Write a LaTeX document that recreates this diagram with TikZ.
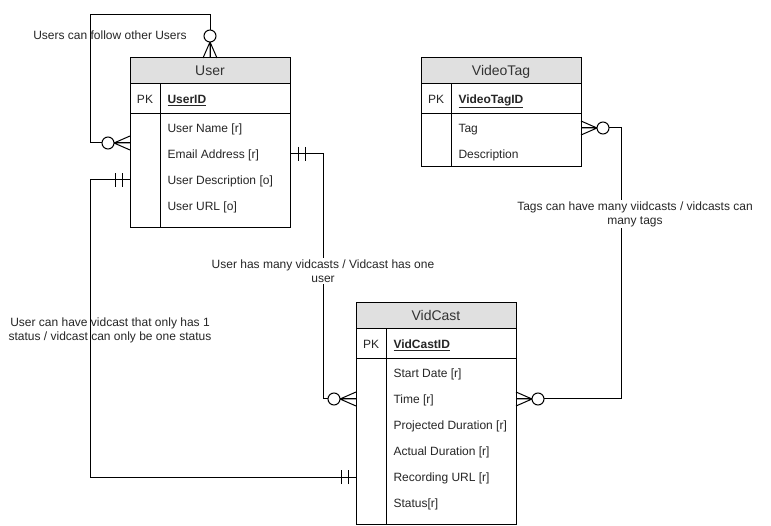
\documentclass[tikz,border=0pt]{standalone}
\usepackage{fontspec}
\setmainfont{Liberation Sans}
\usetikzlibrary{calc}
\begin{document}
\begin{tikzpicture}[x=1pt,y=-1pt,
  line width=1pt,
  txt/.style={font=\fontsize{12}{14}\selectfont, text=black!85, inner sep=0pt,
              text height=8.6pt, text depth=0pt},
  title/.style={font=\fontsize{14}{16}\selectfont, text=black!80, inner sep=0pt,
                text height=10pt, text depth=0pt},
  field/.style={txt, anchor=west},
  keyfield/.style={field, font=\fontsize{12}{14}\selectfont\bfseries},
  tbl/.style={inner sep=0pt, outer sep=0pt, anchor=north west, minimum width=160pt},
  hdr/.style={fill=black!12},
  lbl/.style={font=\fontsize{12}{14}\selectfont, text=black!85, align=center, inner sep=0pt},
  lblbg/.style={lbl, fill=white, inner sep=1.5pt},
  zmany/.pic={\draw (0,-7) -- (16,0) -- (0,7) (0,0) -- (16,0);
              \draw[fill=white] (22,0) circle (6);},
  mone/.pic={\draw (8,-7) -- (8,7) (15,-7) -- (15,7);}
]
\fill[white] (0,0) rectangle (771,526);
\useasboundingbox (0,0) rectangle (771,526);

% ---------- User ----------
\node[tbl, minimum height=170pt] (user) at (130,58) {};
\fill[hdr] (user.north west) rectangle ($(user.north east)+(0,26)$);
\draw (user.north west) rectangle (user.south east);
\draw ($(user.north west)+(0,26)$) -- ($(user.north east)+(0,26)$);
\draw ($(user.north west)+(0,56)$) -- ($(user.north east)+(0,56)$);
\draw ($(user.north west)+(30,26)$) -- ($(user.south west)+(30,0)$);
\node[title] (userT) at ($(user.north)+(0,13)$) {User};
\node[txt] (userPK) at ($(user.north west)+(15,41)$) {PK};
\node[keyfield] (userID) at ($(user.north west)+(37,41)$) {\underline{UserID}};
\node[field] (userName) at ($(user.north west)+(37,70)$) {User Name [r]};
\node[field] (userEmail) at ($(user.north west)+(37,96)$) {Email Address [r]};
\node[field] (userDesc) at ($(user.north west)+(37,122)$) {User Description [o]};
\node[field] (userURL) at ($(user.north west)+(37,148)$) {User URL [o]};

% ---------- VideoTag ----------
\node[tbl, minimum height=109pt] (tag) at (421,58) {};
\fill[hdr] (tag.north west) rectangle ($(tag.north east)+(0,26)$);
\draw (tag.north west) rectangle (tag.south east);
\draw ($(tag.north west)+(0,26)$) -- ($(tag.north east)+(0,26)$);
\draw ($(tag.north west)+(0,56)$) -- ($(tag.north east)+(0,56)$);
\draw ($(tag.north west)+(30,26)$) -- ($(tag.south west)+(30,0)$);
\node[title] (tagT) at ($(tag.north)+(0,13)$) {VideoTag};
\node[txt] (tagPK) at ($(tag.north west)+(15,41)$) {PK};
\node[keyfield] (tagID) at ($(tag.north west)+(37,41)$) {\underline{VideoTagID}};
\node[field] (tagTag) at ($(tag.north west)+(37,70)$) {Tag};
\node[field] (tagDesc) at ($(tag.north west)+(37,96)$) {Description};

% ---------- VidCast ----------
\node[tbl, minimum height=221pt] (vid) at (356,303) {};
\fill[hdr] (vid.north west) rectangle ($(vid.north east)+(0,26)$);
\draw (vid.north west) rectangle (vid.south east);
\draw ($(vid.north west)+(0,26)$) -- ($(vid.north east)+(0,26)$);
\draw ($(vid.north west)+(0,56)$) -- ($(vid.north east)+(0,56)$);
\draw ($(vid.north west)+(30,26)$) -- ($(vid.south west)+(30,0)$);
\node[title] (vidT) at ($(vid.north)+(0,13)$) {VidCast};
\node[txt] (vidPK) at ($(vid.north west)+(15,41)$) {PK};
\node[keyfield] (vidID) at ($(vid.north west)+(37,41)$) {\underline{VidCastID}};
\node[field] (vidStart) at ($(vid.north west)+(37,70)$) {Start Date [r]};
\node[field] (vidTime) at ($(vid.north west)+(37,96)$) {Time [r]};
\node[field] (vidProj) at ($(vid.north west)+(37,122)$) {Projected Duration [r]};
\node[field] (vidAct) at ($(vid.north west)+(37,148)$) {Actual Duration [r]};
\node[field] (vidRec) at ($(vid.north west)+(37,174)$) {Recording URL [r]};
\node[field] (vidStatus) at ($(vid.north west)+(37,200)$) {Status[r]};

% ---------- routing points ----------
\coordinate (loopA) at (90,15);
\coordinate (loopB) at (90,143);
\coordinate (bendA) at (323,0);
\coordinate (bendB) at (621,0);

% ---------- connectors ----------
\draw (user.north) |- (loopA) |- (user.west |- loopB);
\draw (user.east |- userEmail) -- (bendA |- userEmail) -- (bendA |- vidTime) -- (vid.west |- vidTime);
\draw (tag.east |- tagTag) -- (bendB |- tagTag) -- (bendB |- vidTime) -- (vid.east |- vidTime);
\draw (user.west |- userDesc) -- (loopA |- userDesc) -- (loopA |- vidRec) -- (vid.west |- vidRec);

% ---------- cardinality marks ----------
\pic[rotate=90] at (user.north) {zmany};
\pic[rotate=180] at (user.west |- loopB) {zmany};
\pic at (user.east |- userEmail) {mone};
\pic[rotate=180] at (user.west |- userDesc) {mone};
\pic[rotate=180] at (vid.west |- vidTime) {zmany};
\pic[rotate=180] at (vid.west |- vidRec) {mone};
\pic at (vid.east |- vidTime) {zmany};
\pic at (tag.east |- tagTag) {zmany};

% ---------- relationship labels ----------
\node[lbl] (followLbl) at (110,35) {Users can follow other Users};
\node[lblbg] (uvLbl) at (323,271) {User has many vidcasts / Vidcast has one\\user};
\node[lblbg] (tvLbl) at (635,214) {Tags can have many viidcasts / vidcasts can\\many tags};
\node[lbl] (statusLbl) at (110,330) {User can have vidcast that only has 1\\status / vidcast can only be one status};
\end{tikzpicture}
\end{document}
